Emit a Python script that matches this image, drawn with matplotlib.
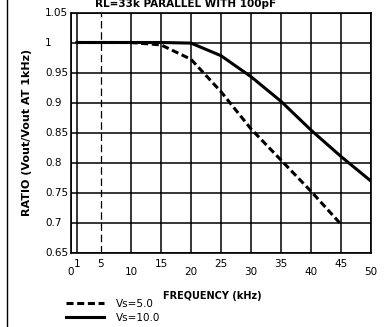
#!/usr/bin/env python3
"""Frequency response ratio vs. frequency, RL=33k parallel with 100pF."""
import matplotlib

matplotlib.use("Agg")
import matplotlib.pyplot as plt
from matplotlib.lines import Line2D

# data
freq_vs5 = [1, 5, 10, 15, 20, 25, 30, 35, 40, 45]
ratio_vs5 = [1.0, 1.0, 1.0, 0.996, 0.972, 0.918, 0.856, 0.804, 0.752, 0.697]
freq_vs10 = [1, 5, 10, 15, 20, 25, 30, 35, 40, 45, 50]
ratio_vs10 = [1.0, 1.0, 1.0, 1.0, 0.999, 0.978, 0.943, 0.902, 0.854, 0.81, 0.769]

x_ticks = [0, 1, 5, 10, 15, 20, 25, 30, 35, 40, 45, 50]
x_tick_labels = ["0", "1", "5", "10", "15", "20", "25", "30", "35", "40", "45", "50"]
x_low_labels = ["0", "10", "20", "30", "40", "50"]
y_ticks = [0.65, 0.70, 0.75, 0.80, 0.85, 0.90, 0.95, 1.00, 1.05]
y_tick_labels = ["0.65", "0.7", "0.75", "0.8", "0.85", "0.9", "0.95", "1", "1.05"]

W, H = 387, 327
fig = plt.figure(figsize=(W / 100, H / 100), dpi=100)
ax = fig.add_axes([71 / W, 1 - 252.5 / H, 300 / W, 240 / H])

ax.plot(freq_vs5, ratio_vs5, color="black", lw=2.2, linestyle=(0, (2.3, 1.2)), label="Vs=5.0")
ax.plot(freq_vs10, ratio_vs10, color="black", lw=2.2, label="Vs=10.0")

ax.set_xlim(0, 50)
ax.set_ylim(0.65, 1.05)
ax.set_xticks(x_ticks, x_tick_labels, fontsize=7.5)
ax.set_yticks(y_ticks, y_tick_labels, fontsize=7.5)
ax.tick_params(length=0)
ax.grid(True, color="black", lw=1.1)
ax.xaxis.get_gridlines()[2].set_linestyle((0, (6, 3)))
ax.xaxis.get_gridlines()[2].set_linewidth(0.9)
for sp in ax.spines.values():
    sp.set_linewidth(1.2)

# staggered x tick labels
for tick, lab in zip(ax.xaxis.get_major_ticks(), x_tick_labels):
    tick.set_pad(10.5 if lab in x_low_labels else 4.5)

# y tick labels are left aligned at a fixed column
for tick in ax.yaxis.get_major_ticks():
    tick.set_pad(18.7)
for lab in ax.get_yticklabels():
    lab.set_horizontalalignment("left")

fig.text(186 / W, 1 - 6.7 / H, "RL=33k PARALLEL WITH 100pF", ha="center", va="baseline",
         fontsize=7.5, fontweight="bold")
fig.text(27 / W, 1 - 132.5 / H, "RATIO (Vout/Vout AT 1kHz)", rotation=90, ha="center", va="center",
         fontsize=8, fontweight="bold")
fig.text(212.5 / W, 1 - 296 / H, "FREQUENCY (kHz)", ha="center", va="center",
         fontsize=7, fontweight="bold")

fig.legend(loc="upper left", bbox_to_anchor=(66 / W, 1 - 299 / H), frameon=False,
           borderpad=0, borderaxespad=0, handlelength=3.6, handletextpad=1.2,
           labelspacing=0.35, fontsize=7.5)

# scanned page frame on the left
fig.add_artist(Line2D([7 / W, 7 / W], [0, 1], transform=fig.transFigure, color="black", lw=1.0))

fig.savefig("out.png", dpi=100)
plt.close(fig)
